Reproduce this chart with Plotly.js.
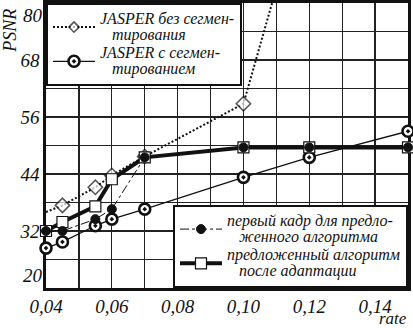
<!DOCTYPE html>
<html>
<head>
<meta charset="utf-8">
<script src="https://cdn.plot.ly/plotly-3.0.1.min.js"></script>
<style>html,body{margin:0;padding:0;background:#fff;}#chart{width:413px;height:328px;}</style>
</head>
<body>
<div id="chart"></div>
<script>
// ---- data ----
var rateNoSeg = [0.04, 0.045, 0.055, 0.06, 0.07, 0.10, 0.12];
var psnrNoSeg = [36.0, 37.4, 41.2, 43.7, 47.7, 58.8, 107.5];

var rate = [0.04, 0.045, 0.055, 0.06, 0.07, 0.10, 0.12, 0.15];
var psnrSeg = [28.4, 29.7, 33.1, 34.5, 36.6, 43.3, 47.5, 53.0];
var psnrFirstFrame = [32.0, 32.0, 34.5, 36.6, 47.5, 49.6, 49.6, 49.6];
var psnrAdapted = [32.0, 33.9, 37.2, 42.9, 47.5, 49.6, 49.6, 49.6];

var nameNoSeg = "JASPER без сегмен-<br>\u00a0\u00a0\u00a0тирования";
var nameSeg = "JASPER с сегмен-<br>\u00a0\u00a0\u00a0тированием";
var nameFirst = "первый кадр для предло-<br>\u00a0\u00a0\u00a0женного алгоритма";
var nameAdapted = "предложенный алгоритм<br>\u00a0\u00a0\u00a0после адаптации";

var xTickFormat = ".2f";
var yTicks = [20, 32, 44, 56, 68, 80];

var SERIF = "Liberation Serif";

function big(s) {
  return s.split("<br>").map(function (p) {
    return '<span style="font-size:16px">' + p + '</span>';
  }).join("<br>");
}

var traces = [
  {
    x: rateNoSeg, y: psnrNoSeg, name: big(nameNoSeg), legend: "legend", legendrank: 1,
    mode: "lines+markers", cliponaxis: false,
    line: {color: "#111", width: 2, dash: "2px,2px"},
    marker: {symbol: "diamond", size: rateNoSeg.map(function (v, i) { return (i === 0 || i === rateNoSeg.length - 1) ? 0 : 11; }),
             color: "#fff", line: {color: "#111", width: 1.6}}
  },
  {
    x: rate, y: psnrSeg, name: big(nameSeg), legend: "legend", legendrank: 2,
    mode: "lines+markers", cliponaxis: false,
    line: {color: "#111", width: 1.3},
    marker: {symbol: "circle-dot", size: 11, color: "#fff", line: {color: "#111", width: 2.6}}
  },
  {
    x: rate, y: psnrAdapted, name: big(nameAdapted), legend: "legend2", legendrank: 2,
    mode: "lines+markers", cliponaxis: false,
    line: {color: "#111", width: 4},
    marker: {symbol: "square", size: 11, color: "#fff", line: {color: "#111", width: 1.2}}
  },
  {
    x: rate, y: psnrFirstFrame, name: big(nameFirst), legend: "legend2", legendrank: 1,
    mode: "lines+markers", cliponaxis: false,
    line: {color: "#111", width: 1, dash: "dashdot"},
    marker: {symbol: "circle", size: 9, color: "#111", line: {color: "#111", width: 1}}
  }
];

var axisFont = {family: SERIF, size: 19, color: "#111", style: "italic"};

var yInner = yTicks.slice(1, yTicks.length - 1);

var layout = {
  width: 413, height: 328,
  margin: {l: 46, r: 5, t: 3, b: 40},
  paper_bgcolor: "#fff", plot_bgcolor: "#fff",
  separators: ", ",
  showlegend: true,
  font: {family: SERIF, color: "#111"},
  xaxis: {
    range: [0.04, 0.15], tick0: 0.04, dtick: 0.02, tickformat: xTickFormat,
    showgrid: true, gridcolor: "#222", gridwidth: 1.3,
    minor: {dtick: 0.01, tick0: 0.04, showgrid: true, gridcolor: "#222", gridwidth: 1.3},
    showline: true, linecolor: "#111", linewidth: 2.6, mirror: true,
    zeroline: false, ticks: "", tickfont: axisFont, layer: "below traces", fixedrange: true,
    ticklabeloverflow: "allow", ticklabelstandoff: 0
  },
  yaxis: {
    range: [yTicks[0], yTicks[yTicks.length - 1]], tickmode: "array", tickvals: yInner, tickformat: "d",
    showgrid: true, gridcolor: "#222", gridwidth: 1.3,
    minor: {dtick: 6, tick0: 20, showgrid: true, gridcolor: "#222", gridwidth: 1.3},
    showline: true, linecolor: "#111", linewidth: 2.6, mirror: true,
    zeroline: false, ticks: "", tickfont: axisFont, layer: "below traces", fixedrange: true
  },
  legend: {
    x: 0, y: 1, xanchor: "left", yanchor: "top",
    bgcolor: "#fff", bordercolor: "#111", borderwidth: 2,
    font: {family: SERIF, size: 12, color: "#111", style: "italic"},
    itemwidth: 42, tracegroupgap: 0
  },
  legend2: {
    x: 1, y: 0, xanchor: "right", yanchor: "bottom",
    bgcolor: "#fff", bordercolor: "#111", borderwidth: 2,
    font: {family: SERIF, size: 12, color: "#111", style: "italic"},
    itemwidth: 42, tracegroupgap: 0
  },
  annotations: [
    {text: "PSNR", xref: "paper", yref: "paper", x: -0.098, y: 0.985, xanchor: "center", yanchor: "top",
     textangle: -90, showarrow: false, font: {family: SERIF, size: 18, color: "#111", style: "italic"}},
    {text: "rate", xref: "paper", yref: "paper", x: 1, y: -0.1404, xanchor: "right", yanchor: "bottom", xshift: 1, yshift: -2,
     showarrow: false, font: {family: SERIF, size: 17, color: "#111", style: "italic"}},
    {text: String(yTicks[yTicks.length - 1]), xref: "paper", yref: "y", x: 0, y: yTicks[yTicks.length - 1],
     xanchor: "right", yanchor: "top", xshift: -1, showarrow: false, font: axisFont},
    {text: String(yTicks[0]), xref: "paper", yref: "y", x: 0, y: yTicks[0],
     xanchor: "right", yanchor: "bottom", xshift: -1, showarrow: false, font: axisFont}
  ]
};

Plotly.newPlot("chart", traces, layout, {displayModeBar: false, staticPlot: true});
</script>
</body>
</html>
